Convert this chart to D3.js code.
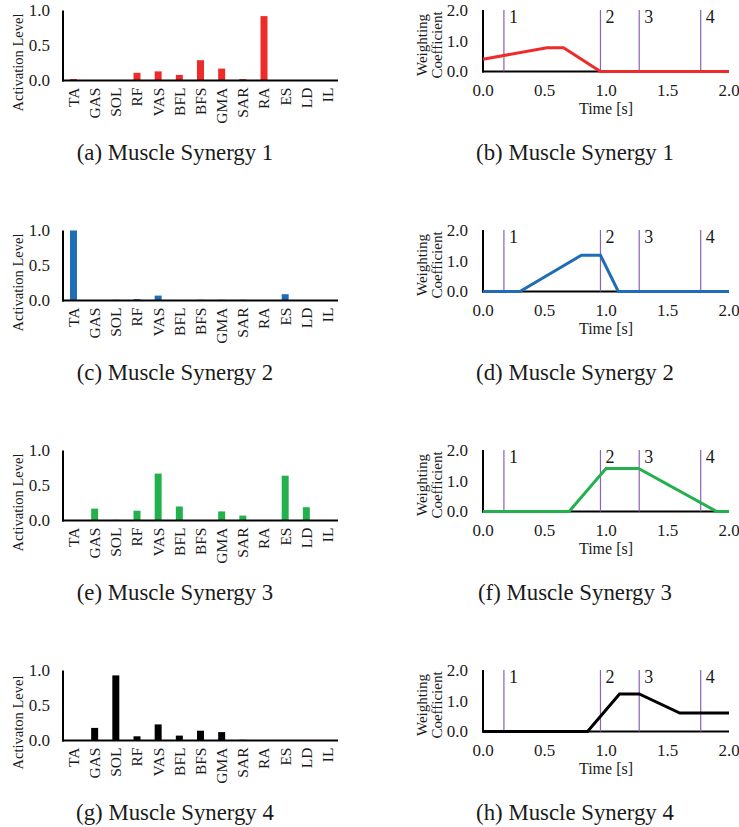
<!DOCTYPE html>
<html><head><meta charset="utf-8">
<script src="https://cdn.jsdelivr.net/npm/d3@7"></script>
<style>body{margin:0;background:#fff}svg{display:block}</style>
</head><body><svg id="c" width="739" height="827"></svg>
<script>
// ---- data ----
const muscles = ["TA","GAS","SOL","RF","VAS","BFL","BFS","GMA","SAR","RA","ES","LD","IL"];
const activation1 = [0.02,0,0,0.11,0.13,0.08,0.29,0.17,0.02,0.92,0,0,0];
const activation2 = [1.0,0,0.01,0.02,0.07,0,0.01,0.01,0.01,0,0.09,0,0];
const activation3 = [0,0.17,0.01,0.14,0.67,0.2,0,0.13,0.07,0,0.64,0.19,0];
const activation4 = [0,0.18,0.93,0.06,0.23,0.07,0.14,0.12,0.01,0,0,0,0];
const time1 = [0,0.52,0.655,0.955,2.0];
const coef1 = [0.40,0.77,0.77,0,0];
const time2 = [0,0.30,0.80,0.955,1.10,2.0];
const coef2 = [0,0,1.18,1.18,0,0];
const time3 = [0,0.70,1.0,1.265,1.90,2.0];
const coef3 = [0,0,1.40,1.40,0,0];
const time4 = [0,0.85,1.11,1.27,1.60,2.0];
const coef4 = [0,0,1.22,1.22,0.60,0.60];
const eventTimes = [0.17,0.955,1.27,1.77];
const eventLabels = ["1","2","3","4"];
const barTicks = [0,0.5,1.0];
const coefTicks = [0,1,2];
const timeTicks = [0,0.5,1,1.5,2];
const colors = ["#ee2b2b","#1f6db5","#22b14c","#000000"];
const barYLabels = ["Activation Level","Activation Level","Activation Level","Activaton Level"];
const captionsLeft = ["(a) Muscle Synergy 1","(c) Muscle Synergy 2","(e) Muscle Synergy 3","(g) Muscle Synergy 4"];
const captionsRight = ["(b) Muscle Synergy 1","(d) Muscle Synergy 2","(f) Muscle Synergy 3","(h) Muscle Synergy 4"];

const activations = [activation1,activation2,activation3,activation4];
const times = [time1,time2,time3,time4];
const coefs = [coef1,coef2,coef3,coef4];

const FONT = '"Liberation Serif", serif';
const txtCol = "#1a1a1a";
function styl(sel, size) {
  return sel.style("font-family", FONT).style("font-size", size + "px").attr("fill", txtCol);
}

const svg = d3.select("#c");
const rowStep = 220;

for (let i = 0; i < 4; i++) {
  const oy = i * rowStep;
  const col = colors[i];
  // ---- left bar chart ----
  const g = svg.append("g").attr("transform", `translate(0,${oy})`);
  const x = d3.scaleBand().domain(muscles).range([63, 338]).paddingInner(0.67).paddingOuter(0.33);
  const y = d3.scaleLinear().domain([0, 1]).range([80.5, 10.5]);
  g.selectAll("rect.bar").data(muscles).enter().append("rect")
    .attr("x", d => x(d)).attr("width", x.bandwidth())
    .attr("y", (d, k) => y(activations[i][k]))
    .attr("height", (d, k) => y(0) - y(activations[i][k]))
    .attr("fill", col);
  g.append("line").attr("x1", 63).attr("x2", 63).attr("y1", y(1)).attr("y2", y(0)+1).attr("stroke", "#000").attr("stroke-width", 2);
  g.append("line").attr("x1", 62).attr("x2", 338).attr("y1", y(0)).attr("y2", y(0)).attr("stroke", "#000").attr("stroke-width", 2);
  styl(g.selectAll("text.yt").data(barTicks).enter().append("text")
    .attr("x", 50).attr("y", d => y(d)).attr("dy", "0.35em").attr("text-anchor", "end"), 17)
    .text(d => d3.format(".1f")(d));
  styl(g.selectAll("text.xl").data(muscles).enter().append("text")
    .attr("transform", d => `translate(${x(d) + x.bandwidth()/2},${y(0)+7}) rotate(-90)`)
    .attr("text-anchor", "end").attr("dy", "0.35em"), 15.5).text(d => d);
  styl(g.append("text").attr("transform", `translate(18,${y(0.5)+17}) rotate(-90)`)
    .attr("text-anchor", "middle").attr("dy", "0.35em"), 14.5).text(barYLabels[i]);
  styl(g.append("text").attr("x", 175).attr("y", 160).attr("text-anchor", "middle"), 22.8).text(captionsLeft[i]);

  // ---- right line chart ----
  const h = svg.append("g").attr("transform", `translate(0,${oy})`);
  const tx = d3.scaleLinear().domain([0, 2]).range([483, 729]);
  const cy = d3.scaleLinear().domain([0, 2]).range([71.5, 10]);
  h.append("line").attr("x1", 483).attr("x2", 483).attr("y1", cy(2)).attr("y2", cy(0)+1).attr("stroke", "#000").attr("stroke-width", 2);
  h.append("line").attr("x1", 482).attr("x2", 729).attr("y1", cy(0)).attr("y2", cy(0)).attr("stroke", "#000").attr("stroke-width", 2);
  h.selectAll("line.ev").data(eventTimes).enter().append("line")
    .attr("x1", d => tx(d)).attr("x2", d => tx(d)).attr("y1", cy(2)).attr("y2", cy(0))
    .attr("stroke", "#8a62b8").attr("stroke-width", 1.2);
  styl(h.selectAll("text.ev").data(eventTimes).enter().append("text")
    .attr("x", d => tx(d) + 5).attr("y", cy(2) + 13), 18)
    .text((d, k) => eventLabels[k]);
  const line = d3.line().x((d, k) => tx(times[i][k])).y(d => cy(d));
  h.append("path").datum(coefs[i]).attr("d", line).attr("fill", "none")
    .attr("stroke", col).attr("stroke-width", 3).attr("stroke-linejoin", "miter");
  styl(h.selectAll("text.yt").data(coefTicks).enter().append("text")
    .attr("x", 468).attr("y", d => cy(d)).attr("dy", "0.35em").attr("text-anchor", "end"), 17)
    .text(d => d3.format(".1f")(d));
  styl(h.selectAll("text.xt").data(timeTicks).enter().append("text")
    .attr("x", d => tx(d)).attr("y", 96).attr("text-anchor", "middle"), 17)
    .text(d => d3.format(".1f")(d));
  styl(h.append("text").attr("x", 606).attr("y", 114).attr("text-anchor", "middle"), 16).text("Time [s]");
  const yl = styl(h.append("text").attr("transform", `translate(0,45) rotate(-90)`).attr("text-anchor", "middle"), 15);
  yl.append("tspan").attr("x", 0).attr("y", 427).text("Weighting");
  yl.append("tspan").attr("x", 0).attr("y", 442).text("Coefficient");
  styl(h.append("text").attr("x", 575).attr("y", 160).attr("text-anchor", "middle"), 22.8).text(captionsRight[i]);
}
</script></body></html>
